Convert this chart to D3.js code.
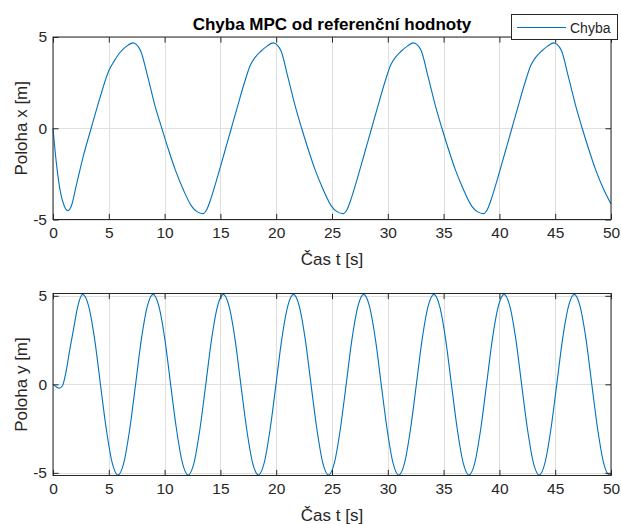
<!DOCTYPE html>
<html>
<head>
<meta charset="utf-8">
<script src="https://cdn.jsdelivr.net/npm/d3@7"></script>
<style>
  html, body { margin: 0; padding: 0; background: #fff; }
  svg { display: block; }
  text { font-family: "Liberation Sans", Arial, Helvetica, sans-serif; }
</style>
</head>
<body>
<script>
// ---- Data ----
const tX = [0, 0.3, 0.65, 1.0, 1.33, 1.65, 2.1, 2.75, 3.42, 4.2, 5.0, 5.45, 6.0, 6.6, 7.16, 7.46, 7.85, 8.5, 9.12, 9.75, 10.35, 10.95, 11.7, 12.4, 12.9,
  13.43, 13.78, 14.18, 14.63, 15.08, 15.53, 15.98, 16.53, 17.13, 17.68, 18.13, 18.63, 19.18, 19.73, 20.03, 20.43, 21.05, 21.68, 22.28, 22.88, 23.48, 24.21, 24.93, 25.45,
  26.00, 26.35, 26.75, 27.20, 27.65, 28.10, 28.55, 29.10, 29.70, 30.25, 30.70, 31.20, 31.75, 32.30, 32.60, 33.00, 33.62, 34.25, 34.85, 35.45, 36.05, 36.78, 37.50, 38.02,
  38.57, 38.92, 39.32, 39.77, 40.22, 40.67, 41.12, 41.67, 42.27, 42.82, 43.27, 43.77, 44.32, 44.87, 45.17, 45.57, 46.19, 46.82, 47.42, 48.02, 48.62, 49.35, 50.0];
const xErr = [0, -1.9, -3.45, -4.25, -4.52, -4.25, -3.1, -1.45, 0, 1.65, 3.15, 3.65, 4.15, 4.5, 4.68, 4.6, 4.25, 2.8, 1.27, 0, -1.18, -2.27, -3.4, -4.25, -4.57,
  -4.68, -4.45, -3.8, -2.9, -1.94, -0.97, 0, 1.18, 2.45, 3.45, 3.9, 4.22, 4.5, 4.68, 4.6, 4.25, 2.8, 1.27, 0, -1.18, -2.27, -3.36, -4.25, -4.57,
  -4.68, -4.45, -3.8, -2.9, -1.94, -0.97, 0, 1.18, 2.45, 3.45, 3.9, 4.22, 4.5, 4.68, 4.6, 4.25, 2.8, 1.27, 0, -1.18, -2.27, -3.36, -4.25, -4.57,
  -4.68, -4.45, -3.8, -2.9, -1.94, -0.97, 0, 1.18, 2.45, 3.45, 3.9, 4.22, 4.5, 4.68, 4.6, 4.25, 2.8, 1.27, 0, -1.18, -2.27, -3.36, -4.15];

const tY = [0, 0.25, 0.55, 0.85, 1.15, 1.5, 1.85, 2.2, 2.65, 3.20, 3.73, 4.25, 4.78, 5.30, 5.82, 6.35, 6.87, 7.40, 7.92, 8.45,
  8.97, 9.49, 10.02, 10.54, 11.07, 11.59, 12.11, 12.64, 13.16, 13.69, 14.21, 14.74,
  15.26, 15.78, 16.31, 16.83, 17.36, 17.88, 18.40, 18.93, 19.45, 19.98, 20.50, 21.03,
  21.55, 22.07, 22.60, 23.12, 23.65, 24.17, 24.69, 25.22, 25.74, 26.27, 26.79, 27.32,
  27.84, 28.36, 28.89, 29.41, 29.94, 30.46, 30.98, 31.51, 32.03, 32.56, 33.08, 33.61,
  34.13, 34.65, 35.18, 35.70, 36.23, 36.75, 37.27, 37.80, 38.32, 38.85, 39.37, 39.90,
  40.42, 40.94, 41.47, 41.99, 42.52, 43.04, 43.56, 44.09, 44.61, 45.14, 45.66, 46.19,
  46.71, 47.23, 47.76, 48.28, 48.81, 49.33, 49.85, 50.0];
const yErr = [0, -0.12, -0.22, -0.08, 0.65, 1.95, 3.15, 4.35, 5.08, 4.4, 2.55, 0, -2.55, -4.42, -5.12, -4.42, -2.55, 0, 2.55, 4.4,
  5.08, 4.4, 2.55, 0, -2.55, -4.42, -5.12, -4.42, -2.55, 0, 2.55, 4.4,
  5.08, 4.4, 2.55, 0, -2.55, -4.42, -5.12, -4.42, -2.55, 0, 2.55, 4.4,
  5.08, 4.4, 2.55, 0, -2.55, -4.42, -5.12, -4.42, -2.55, 0, 2.55, 4.4,
  5.08, 4.4, 2.55, 0, -2.55, -4.42, -5.12, -4.42, -2.55, 0, 2.55, 4.4,
  5.08, 4.4, 2.55, 0, -2.55, -4.42, -5.12, -4.42, -2.55, 0, 2.55, 4.4,
  5.08, 4.4, 2.55, 0, -2.55, -4.42, -5.12, -4.42, -2.55, 0, 2.55, 4.4,
  5.08, 4.4, 2.55, 0, -2.55, -4.42, -5.12, -5.08];

const xTicks = [0, 5, 10, 15, 20, 25, 30, 35, 40, 45, 50];
const yTicks = [-5, 0, 5];
const titleText = "Chyba MPC od referenční hodnoty";
const legendLabel = "Chyba";
const xLabel = "Čas t [s]";
const yLabelTop = "Poloha x [m]";
const yLabelBot = "Poloha y [m]";

// ---- Drawing ----
const W = 621, H = 524;
const lineColor = "#0072BD", axisColor = "#262626", gridColor = "#dfdfdf";
const tickFont = 15.5, labelFont = 17;

const svg = d3.select("body").append("svg").attr("width", W).attr("height", H);
svg.append("rect").attr("width", W).attr("height", H).attr("fill", "#fff");

function panel(cfg) {
  const x = d3.scaleLinear().domain([0, 50]).range([53, 611]);
  const y = d3.scaleLinear().domain(cfg.yDomain).range(cfg.yRange);
  const g = svg.append("g");
  const [yb, yt] = cfg.yRange;
  const tl = 5.6;

  // grid
  g.append("g").selectAll("line").data(xTicks).join("line")
    .attr("x1", d => Math.round(x(d)) + 0.5).attr("x2", d => Math.round(x(d)) + 0.5)
    .attr("y1", yt).attr("y2", yb).attr("stroke", gridColor).attr("stroke-width", 1);
  g.append("g").selectAll("line").data(yTicks).join("line")
    .attr("y1", d => Math.round(y(d)) + 0.5).attr("y2", d => Math.round(y(d)) + 0.5)
    .attr("x1", x(0)).attr("x2", x(50)).attr("stroke", gridColor).attr("stroke-width", 1);

  // curve
  g.append("path").datum(cfg.t.map((t, i) => [t, cfg.v[i]]))
    .attr("fill", "none").attr("stroke", lineColor).attr("stroke-width", 1.1)
    .attr("d", d3.line().x(d => x(d[0])).y(d => y(d[1])).curve(d3.curveMonotoneX));

  // axes (ticks inward)
  const ax = (axis, tr) => {
    const a = g.append("g").attr("transform", tr).call(axis);
    a.select(".domain").remove();
    a.selectAll("line").attr("stroke", axisColor);
    a.selectAll("text").attr("fill", axisColor).style("font-size", tickFont + "px")
      .style("font-family", '"Liberation Sans", Arial, sans-serif');
    return a;
  };
  const fmt = d => String(d);
  ax(d3.axisBottom(x).tickValues(xTicks).tickSize(-tl).tickPadding(7).tickFormat(fmt), `translate(0,${yb})`);
  ax(d3.axisTop(x).tickValues(xTicks).tickSize(-tl).tickFormat(""), `translate(0,${yt})`);
  ax(d3.axisLeft(y).tickValues(yTicks).tickSize(-tl).tickPadding(6).tickFormat(fmt), `translate(${x(0)},0)`);
  ax(d3.axisRight(y).tickValues(yTicks).tickSize(-tl).tickFormat(""), `translate(${x(50)},0)`);

  // box
  g.append("rect").attr("x", x(0)).attr("y", yt).attr("width", x(50) - x(0)).attr("height", yb - yt)
    .attr("fill", "none").attr("stroke", axisColor).attr("stroke-width", 1);

  // labels
  g.append("text").attr("x", (x(0) + x(50)) / 2).attr("y", yb + 45)
    .attr("text-anchor", "middle").attr("fill", axisColor).style("font-size", labelFont + "px").text(xLabel);
  g.append("text").attr("transform", `translate(27,${(yt + yb) / 2}) rotate(-90)`)
    .attr("text-anchor", "middle").attr("fill", axisColor).style("font-size", labelFont + "px").text(cfg.yLabel);
  return { x, y };
}

panel({ t: tX, v: xErr, yDomain: [-5, 5], yRange: [219.5, 37], yLabel: yLabelTop });
panel({ t: tY, v: yErr, yDomain: [-5.15, 5.13], yRange: [475.5, 293.5], yLabel: yLabelBot });

// title
svg.append("text").attr("x", 332).attr("y", 30).attr("text-anchor", "middle")
  .attr("fill", "#000").style("font-size", "17px").style("font-weight", "bold").text(titleText);

// legend
const lg = svg.append("g");
lg.append("rect").attr("x", 511.5).attr("y", 14.5).attr("width", 106).attr("height", 25)
  .attr("fill", "#fff").attr("stroke", axisColor).attr("stroke-width", 1);
lg.append("line").attr("x1", 517).attr("x2", 566).attr("y1", 27.5).attr("y2", 27.5)
  .attr("stroke", lineColor).attr("stroke-width", 1.1);
lg.append("text").attr("x", 570).attr("y", 32.5).attr("fill", axisColor)
  .style("font-size", "14px").text(legendLabel);
</script>
</body>
</html>
